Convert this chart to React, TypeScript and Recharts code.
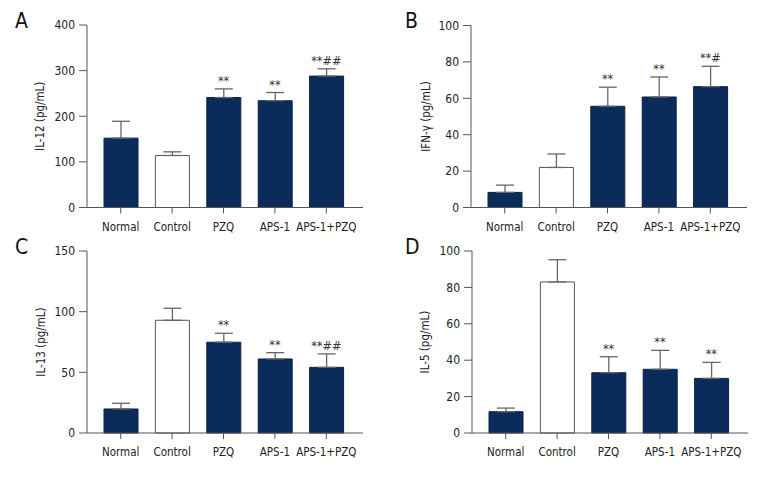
import {
  ComposedChart,
  Bar,
  Line,
  XAxis,
  YAxis,
  ErrorBar,
  Cell,
  LabelList,
} from "recharts";

const groups = ["Normal", "Control", "PZQ", "APS-1", "APS-1+PZQ"];

const il12Mean = [152, 114, 241, 234, 288];
const il12Err = [37, 8, 19, 18, 16];
const il12Sig = ["", "", "**", "**", "**##"];
const il12Ticks = [0, 100, 200, 300, 400];

const ifnMean = [8.3, 22, 55.6, 60.7, 66.4];
const ifnErr = [4, 7.4, 10.5, 11, 11.2];
const ifnSig = ["", "", "**", "**", "**#"];
const ifnTicks = [0, 20, 40, 60, 80, 100];

const il13Mean = [19.8, 92.9, 74.8, 61, 54.1];
const il13Err = [4.7, 9.9, 7.4, 5.2, 11.1];
const il13Sig = ["", "", "**", "**", "**##"];
const il13Ticks = [0, 50, 100, 150];

const il5Mean = [11.7, 83, 33.1, 35, 30];
const il5Err = [2, 12.2, 8.8, 10.4, 8.8];
const il5Sig = ["", "", "**", "**", "**"];
const il5Ticks = [0, 20, 40, 60, 80, 100];

const NAVY = "#0b2c5a";
const AXIS = "#555";
const FONT = "'DejaVu Sans Condensed', 'DejaVu Sans', sans-serif";
const txt = { fontFamily: FONT, fontStretch: "condensed" as const };

function build(mean: number[], err: number[], sig: string[]) {
  return groups.map((g, i) => ({
    name: g,
    mean: mean[i],
    err: [0, err[i]],
    top: mean[i] + err[i],
    sig: sig[i],
  }));
}

type PanelProps = {
  letter: string;
  yLabel: string;
  mean: number[];
  err: number[];
  sig: string[];
  ticks: number[];
  left: number;
  top: number;
  yWidth: number;
  margin: { top: number; right: number; bottom: number; left: number };
  labelX: number;
};

function Panel(p: PanelProps) {
  const data = build(p.mean, p.err, p.sig);
  const max = p.ticks[p.ticks.length - 1];
  return (
    <div style={{ position: "absolute", left: p.left, top: p.top, width: 390, height: 240 }}>
      <div
        style={{
          position: "absolute",
          left: 15,
          top: p.top === 0 ? 9 : -5,
          ...txt,
          fontSize: 21,
          color: "#111",
        }}
      >
        {p.letter}
      </div>
      <ComposedChart width={390} height={240} data={data} margin={p.margin}>
        <XAxis
          dataKey="name"
          padding={{ left: 8, right: 11 }}
          interval={0}
          stroke={AXIS}
          tickSize={6}
          tickMargin={9}
          tick={{ fontSize: 11.5, fill: "#222", style: txt }}
          height={30}
        />
        <YAxis
          width={p.yWidth}
          domain={[0, max]}
          ticks={p.ticks}
          stroke={AXIS}
          tickSize={8}
          tickMargin={4}
          tick={{ fontSize: 12, fill: "#222", style: txt }}
          label={{
            value: p.yLabel,
            angle: -90,
            position: "insideLeft",
            offset: p.labelX,
            style: { textAnchor: "middle", fontSize: 11.5, fill: "#222", ...txt },
          }}
        />
        <Bar dataKey="mean" barSize={34} isAnimationActive={false}>
          {data.map((d) => (
            <Cell key={d.name} fill={d.name === "Control" ? "#fff" : NAVY} stroke={d.name === "Control" ? "#555" : "#0a2246"} />
          ))}
          <ErrorBar dataKey="err" width={9} stroke="#666" strokeWidth={1.3} direction="y" />
        </Bar>
        <Line dataKey="top" stroke="none" dot={false} activeDot={false} isAnimationActive={false}>
          <LabelList dataKey="sig" position="top" offset={4} fill="#333" style={{ fontSize: 12.5, fill: "#333", ...txt }} />
        </Line>
      </ComposedChart>
    </div>
  );
}

export default function App() {
  return (
    <div style={{ position: "absolute", left: 0, top: 0, width: 780, height: 480, background: "#fff" }}>
      <Panel
        letter="A"
        yLabel="IL-12 (pg/mL)"
        mean={il12Mean}
        err={il12Err}
        sig={il12Sig}
        ticks={il12Ticks}
        left={0}
        top={0}
        yWidth={87}
        margin={{ top: 25, right: 27, bottom: 2.5, left: 0 }}
        labelX={40}
      />
      <Panel
        letter="B"
        yLabel="IFN-γ (pg/mL)"
        mean={ifnMean}
        err={ifnErr}
        sig={ifnSig}
        ticks={ifnTicks}
        left={390}
        top={0}
        yWidth={81}
        margin={{ top: 25.5, right: 33, bottom: 2.5, left: 0 }}
        labelX={36}
      />
      <Panel
        letter="C"
        yLabel="IL-13 (pg/mL)"
        mean={il13Mean}
        err={il13Err}
        sig={il13Sig}
        ticks={il13Ticks}
        left={0}
        top={240}
        yWidth={87}
        margin={{ top: 11, right: 27, bottom: 17, left: 0 }}
        labelX={41}
      />
      <Panel
        letter="D"
        yLabel="IL-5 (pg/mL)"
        mean={il5Mean}
        err={il5Err}
        sig={il5Sig}
        ticks={il5Ticks}
        left={390}
        top={240}
        yWidth={82}
        margin={{ top: 11, right: 32, bottom: 17, left: 0 }}
        labelX={35}
      />
    </div>
  );
}
